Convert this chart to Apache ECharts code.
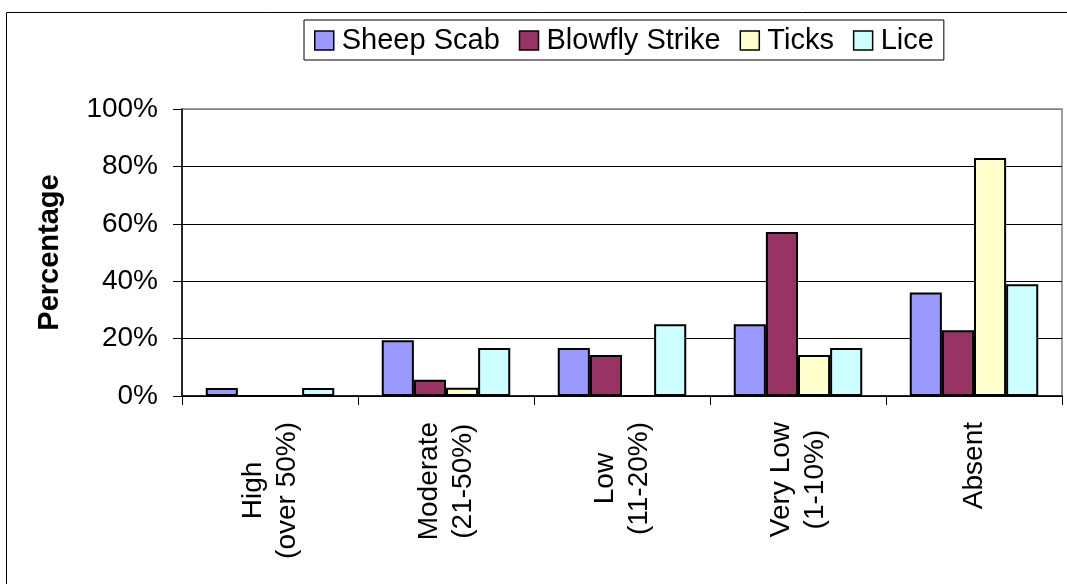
<!DOCTYPE html>
<html>
<head>
<meta charset="utf-8">
<script src="https://cdn.jsdelivr.net/npm/echarts@6/dist/echarts.min.js"></script>
<style>
  html, body { margin: 0; padding: 0; background: #fff; }
  #chart { width: 1067px; height: 584px; }
</style>
</head>
<body>
<div id="chart"></div>
<script>
// categories and values (percent)
const categories = ['High\n(over 50%)', 'Moderate\n(21-50%)', 'Low\n(11-20%)', 'Very Low\n(1-10%)', 'Absent'];
const seriesNames = ['Sheep Scab', 'Blowfly Strike', 'Ticks', 'Lice'];
const sheepScab = [2.8, 19.4, 16.7, 25.0, 36.1];
const blowflyStrike = [0, 5.7, 14.3, 57.1, 22.9];
const ticks = [0, 2.9, 0, 14.3, 82.9];
const lice = [2.8, 16.7, 25.0, 16.7, 38.9];
const colors = ['#9999FF', '#993366', '#FFFFCC', '#CCFFFF'];

const font = "'Liberation Sans', Arial, sans-serif";
const values = [sheepScab, blowflyStrike, ticks, lice];

const chart = echarts.init(document.getElementById('chart'));

const option = {
  animation: false,
  color: colors,
  textStyle: { fontFamily: font, color: '#000' },
  graphic: [
    {
      // outer chart frame (right/bottom edges fall outside the view)
      type: 'rect',
      shape: { x: 6.5, y: 12.5, width: 1100, height: 620 },
      style: { fill: null, stroke: '#000', lineWidth: 1 },
      silent: true
    }
  ],
  legend: {
    left: 304,
    top: 20,
    data: seriesNames,
    itemWidth: 19,
    itemHeight: 19,
    itemGap: 19,
    icon: 'rect',
    padding: [6, 10, 5, 10],
    borderColor: '#000',
    borderWidth: 1,
    itemStyle: { borderColor: '#000', borderWidth: 1.5 },
    textStyle: { fontFamily: font, fontSize: 29, color: '#000', padding: [0, 0, 0, 3] }
  },
  grid: {
    left: 182,
    right: 5,
    top: 109,
    bottom: 188,
    show: true,
    borderColor: '#808080',
    borderWidth: 1.5
  },
  xAxis: {
    type: 'category',
    data: categories,
    axisLine: { lineStyle: { color: '#000', width: 1.5 } },
    axisTick: { show: true, length: 9, lineStyle: { color: '#000' } },
    axisLabel: {
      interval: 0,
      rotate: 90,
      margin: 26,
      formatter: function (v) {
        return v.split('\n').map(function (l) { return '{c|' + l + '}'; }).join('\n');
      },
      rich: {
        c: { fontFamily: font, fontSize: 28, color: '#000', align: 'center', lineHeight: 34 }
      }
    }
  },
  yAxis: {
    type: 'value',
    min: 0,
    max: 100,
    interval: 20,
    name: 'Percentage',
    nameLocation: 'middle',
    nameGap: 118,
    nameTextStyle: { fontFamily: font, fontSize: 29, fontWeight: 'bold', color: '#000' },
    axisLine: { show: true, lineStyle: { color: '#000', width: 1.5 } },
    axisTick: { show: true, length: 9, lineStyle: { color: '#000' } },
    axisLabel: {
      formatter: '{value}%',
      fontFamily: font,
      fontSize: 28,
      color: '#000',
      margin: 24
    },
    splitLine: {
      show: true,
      lineStyle: { color: ['#000', '#000', '#000', '#000', '#000', '#808080'], width: 1 }
    }
  },
  series: seriesNames.map(function (name, i) {
    return {
      name: name,
      type: 'bar',
      data: values[i],
      barGap: 0,
      barCategoryGap: '27%',
      itemStyle: { color: colors[i], borderColor: '#000', borderWidth: 2 }
    };
  })
};

chart.setOption(option);
</script>
</body>
</html>
